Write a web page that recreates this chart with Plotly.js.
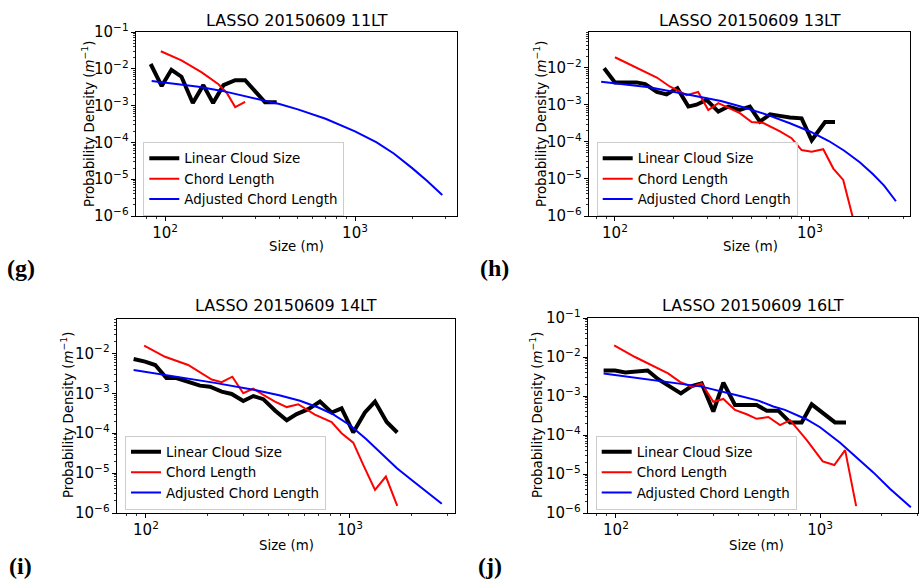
<!DOCTYPE html>
<html>
<head>
<meta charset="utf-8">
<script src="https://cdn.plot.ly/plotly-3.0.1.min.js"></script>
<style>html,body{margin:0;padding:0;background:#fff}#chart{width:919px;height:583px}</style>
</head>
<body>
<div id="chart"></div>
<script>
// ---- data ----
const titles = ['LASSO 20150609 11LT', 'LASSO 20150609 13LT', 'LASSO 20150609 14LT', 'LASSO 20150609 16LT'];
const panelLabels = ['(g)', '(h)', '(i)', '(j)'];
const seriesNames = ['Linear Cloud Size', 'Chord Length', 'Adjusted Chord Length'];
const xTitle = 'Size (m)';
const yTitle = 'Probability Density (<i>m</i><sup>\u22121</sup>)';

// 11LT
const g_lcs_x = [84, 96, 108, 122, 140, 159, 179, 203, 234, 264, 336, 387];
const g_lcs_y = [1.35e-2, 3.4e-3, 9.4e-3, 6.1e-3, 1.18e-3, 3.6e-3, 1.18e-3, 3.6e-3, 4.9e-3, 4.9e-3, 1.23e-3, 1.23e-3];
const g_cl_x = [95, 122, 156, 191, 211, 234, 264];
const g_cl_y = [3.0e-2, 1.7e-2, 8.0e-3, 3.8e-3, 2.24e-3, 9.1e-4, 1.26e-3];
const g_acl_x = [85, 100, 150, 200, 300, 400, 500, 700, 1000, 1300, 1600, 2000, 2400, 2880];
const g_acl_y = [4.68e-3, 4.27e-3, 3.24e-3, 2.51e-3, 1.58e-3, 1.1e-3, 7.9e-4, 4.4e-4, 2.0e-4, 1.0e-4, 5.0e-5, 2.0e-5, 8.9e-6, 3.7e-6];

// 13LT
const h_lcs_x = [88, 100, 129, 143, 164, 184, 209, 238, 262, 295, 339, 381, 437, 492, 554, 624, 700, 789, 906, 1021, 1195, 1344];
const h_lcs_y = [9.6e-3, 4.0e-3, 4.0e-3, 3.6e-3, 2.2e-3, 1.9e-3, 2.8e-3, 8.9e-4, 1.0e-3, 1.35e-3, 6.5e-4, 8.9e-4, 7.2e-4, 8.9e-4, 3.5e-4, 5.5e-4, 5.0e-4, 4.5e-4, 4.3e-4, 1.1e-4, 3.4e-4, 3.4e-4];
const h_cl_x = [100, 164, 191, 233, 267, 301, 339, 389, 437, 502, 577, 702, 805, 906, 1020, 1170, 1318, 1481, 1660];
const h_cl_y = [1.9e-2, 5.4e-3, 3.1e-3, 1.8e-3, 2.2e-3, 7.2e-4, 1.1e-3, 8.0e-4, 5.9e-4, 3.4e-4, 3.2e-4, 1.9e-4, 1.25e-4, 6.0e-5, 5.4e-5, 6.3e-5, 1.9e-5, 9.4e-6, 9e-7];
const h_acl_x = [85, 100, 150, 243, 350, 437, 600, 789, 1000, 1250, 1500, 1800, 2100, 2400, 2760];
const h_acl_y = [4.17e-3, 3.8e-3, 2.95e-3, 1.82e-3, 1.26e-3, 9.1e-4, 5.4e-4, 3.16e-4, 1.9e-4, 1.05e-4, 5.75e-5, 2.82e-5, 1.35e-5, 6.6e-6, 2.5e-6];

// 14LT
const i_lcs_x = [87, 99, 111, 126, 141, 158, 184, 206, 235, 263, 300, 336, 376, 429, 490, 548, 625, 673, 713, 813, 910, 1038, 1184, 1327, 1514, 1706];
const i_lcs_y = [7.2e-3, 6.2e-3, 5.1e-3, 2.4e-3, 2.4e-3, 2.0e-3, 1.55e-3, 1.46e-3, 1.1e-3, 9.6e-4, 6.4e-4, 8.5e-4, 7.1e-4, 3.7e-4, 2.1e-4, 3.0e-4, 4.0e-4, 5.1e-4, 6.2e-4, 3.3e-4, 4.2e-4, 1.04e-4, 3.3e-4, 6.2e-4, 1.9e-4, 1.04e-4];
const i_cl_x = [98, 124, 161, 210, 235, 265, 300, 336, 376, 429, 490, 558, 673, 813, 910, 1038, 1162, 1327, 1500, 1706];
const i_cl_y = [1.55e-2, 8.2e-3, 5.1e-3, 2.2e-3, 1.9e-3, 2.6e-3, 1.0e-3, 1.3e-3, 9.1e-4, 6.2e-4, 4.5e-4, 5.3e-4, 2.9e-4, 1.9e-4, 1.0e-4, 5.8e-5, 1.6e-5, 3.8e-6, 8.2e-6, 1.5e-6];
const i_acl_x = [87, 150, 218, 342, 450, 569, 700, 828, 1000, 1200, 1456, 1700, 2000, 2400, 2820];
const i_acl_y = [3.8e-3, 2.5e-3, 1.82e-3, 1.2e-3, 8.9e-4, 6.5e-4, 4.4e-4, 2.95e-4, 1.58e-4, 7.1e-5, 2.7e-5, 1.32e-5, 6.8e-6, 3.3e-6, 1.7e-6];

// 16LT
const j_lcs_x = [87, 99, 111, 126, 143, 161, 184, 208, 235, 263, 300, 336, 383, 437, 489, 548, 625, 713, 813, 910, 1038, 1184, 1340];
const j_lcs_y = [4.5e-3, 4.5e-3, 4.0e-3, 4.2e-3, 4.5e-3, 2.7e-3, 1.8e-3, 1.17e-3, 1.8e-3, 2.1e-3, 4.0e-4, 2.2e-3, 5.9e-4, 5.9e-4, 5.9e-4, 4.2e-4, 4.2e-4, 2.1e-4, 2.1e-4, 6.1e-4, 3.6e-4, 2.1e-4, 2.1e-4];
const j_cl_x = [98, 124, 180, 206, 235, 263, 300, 336, 383, 437, 489, 558, 637, 713, 861, 1031, 1175, 1327, 1503];
const j_cl_y = [2.0e-2, 1.0e-2, 3.8e-3, 2.3e-3, 1.7e-3, 2.1e-3, 7.1e-4, 8.4e-4, 4.4e-4, 3.4e-4, 2.6e-4, 2.9e-4, 1.8e-4, 2.4e-4, 7.4e-5, 2.1e-5, 1.7e-5, 4.1e-5, 1.5e-6];
const j_acl_x = [87, 150, 263, 405, 499, 590, 673, 861, 1000, 1254, 1500, 1824, 2200, 2786];
const j_acl_y = [3.8e-3, 2.6e-3, 1.74e-3, 1.0e-3, 7.6e-4, 5.4e-4, 4.4e-4, 2.5e-4, 1.58e-4, 6.3e-5, 2.8e-5, 1.1e-5, 4.2e-6, 1.4e-6];

// ---- layout helpers ----
const W = 919, H = 583;
const panels = [
  {lcs:[g_lcs_x,g_lcs_y], cl:[g_cl_x,g_cl_y], acl:[g_acl_x,g_acl_y],
   box:[136,457,32,216], xr:[1.847,3.537], yr:[-6,-1],
   title:[296.5,20], xt:[296.5,246], yt:[88,124], lab:[21,268], leg:[143.3,142]},
  {lcs:[h_lcs_x,h_lcs_y], cl:[h_cl_x,h_cl_y], acl:[h_acl_x,h_acl_y],
   box:[589,910,32,216], xr:[1.867,3.513], yr:[-6,-1.04],
   title:[749.5,20], xt:[750,246], yt:[540,124], lab:[494,268], leg:[596.7,142]},
  {lcs:[i_lcs_x,i_lcs_y], cl:[i_cl_x,i_cl_y], acl:[i_acl_x,i_acl_y],
   box:[117,455,319,513], xr:[1.858,3.515], yr:[-6,-1.14],
   title:[286,305], xt:[286.7,545], yt:[67,415], lab:[20,566], leg:[125,435.5]},
  {lcs:[j_lcs_x,j_lcs_y], cl:[j_cl_x,j_cl_y], acl:[j_acl_x,j_acl_y],
   box:[588,918,318,513], xr:[1.863,3.48], yr:[-6,-1],
   title:[753,305], xt:[756.7,545], yt:[536,415], lab:[490,566], leg:[595.7,435.5]}
];

const font = 'DejaVu Sans, Arial, sans-serif';
const traces = [];
const layout = {
  width: W, height: H,
  margin: {l:0, r:0, t:0, b:0},
  paper_bgcolor: '#fff', plot_bgcolor: '#fff',
  font: {family: font, color: '#000', size: 13},
  annotations: [],
  showlegend: true
};
const px = v => v / W, py = v => 1 - v / H;

panels.forEach((p, k) => {
  const n = k === 0 ? '' : String(k + 1);
  const xa = 'x' + n, ya = 'y' + n;
  const legName = k === 0 ? 'legend' : 'legend' + (k + 1);
  const specs = [
    [p.lcs, '#000000', 4, seriesNames[0]],
    [p.cl, '#ff0000', 2, seriesNames[1]],
    [p.acl, '#0000ff', 2, seriesNames[2]]
  ];
  specs.forEach(s => {
    traces.push({
      type: 'scatter', mode: 'lines', x: s[0][0], y: s[0][1],
      xaxis: xa, yaxis: ya, name: s[3], legend: legName,
      line: {color: s[1], width: s[2]}, hoverinfo: 'skip'
    });
  });
  const axCommon = {
    type: 'log', showgrid: false, zeroline: false,
    showline: true, mirror: true, linecolor: '#000', linewidth: 1,
    ticks: 'outside', ticklen: 4, tickwidth: 1, tickcolor: '#000',
    dtick: 1, exponentformat: 'power',
    tickfont: {family: font, size: 12, color: '#000'},
    minor: {ticks: 'outside', ticklen: 2.2, tickwidth: 0.8, tickcolor: '#000', dtick: 'D1', showgrid: false}
  };
  layout['xaxis' + n] = Object.assign({}, axCommon, {
    domain: [px(p.box[0]), px(p.box[1])], range: p.xr, anchor: ya
  });
  layout['yaxis' + n] = Object.assign({}, axCommon, {
    domain: [py(p.box[3]), py(p.box[2])], range: p.yr, anchor: xa
  });
  layout[legName] = {
    x: px(p.leg[0]), y: py(p.leg[1]), xanchor: 'left', yanchor: 'top',
    xref: 'paper', yref: 'paper',
    bgcolor: 'rgba(255,255,255,0.8)', bordercolor: '#cccccc', borderwidth: 1,
    font: {family: font, size: 13.4, color: '#000'}, tracegroupgap: 0
  };
  layout.annotations.push(
    {text: titles[k], x: px(p.title[0]), y: py(p.title[1]), xref: 'paper', yref: 'paper',
     showarrow: false, xanchor: 'center', yanchor: 'middle', font: {family: font, size: 16, color: '#000'}},
    {text: xTitle, x: px(p.xt[0]), y: py(p.xt[1]), xref: 'paper', yref: 'paper',
     showarrow: false, xanchor: 'center', yanchor: 'middle', font: {family: font, size: 13.3, color: '#000'}},
    {text: yTitle, x: px(p.yt[0]), y: py(p.yt[1]), xref: 'paper', yref: 'paper', textangle: -90,
     showarrow: false, xanchor: 'center', yanchor: 'middle', font: {family: font, size: 13.3, color: '#000'}},
    {text: '<b>' + panelLabels[k] + '</b>', x: px(p.lab[0]), y: py(p.lab[1]), xref: 'paper', yref: 'paper',
     showarrow: false, xanchor: 'center', yanchor: 'middle', font: {family: 'Liberation Serif, DejaVu Serif, serif', size: 24, color: '#000'}}
  );
});

Plotly.newPlot('chart', traces, layout, {staticPlot: true, displayModeBar: false});
</script>
</body>
</html>
